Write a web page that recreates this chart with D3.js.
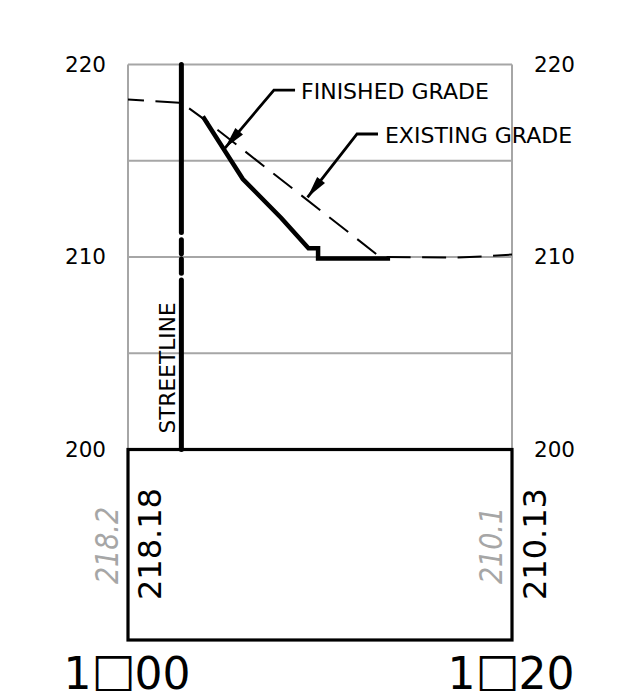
<!DOCTYPE html>
<html>
<head>
<meta charset="utf-8">
<script src="https://cdn.jsdelivr.net/npm/d3@7"></script>
<style>
  html, body { margin: 0; background: #fff; }
  svg { display: block; }
  text { font-family: "DejaVu Sans", sans-serif; fill: #000; }
</style>
</head>
<body>
<svg id="chart" width="624" height="691"></svg>
<script>
// stations and elevations
const stationDomain = [100, 120];
const elevationDomain = [200, 220];
const elevationTicks = [200, 210, 220];
const gridElevations = [205, 210, 215, 220];
const stationLabels = [["1", "\u25A1", "00"], ["1", "\u25A1", "20"]];
const labelStations = [100, 120];

const existingStations = [100, 102.8, 103.9, 113.13, 117, 118.5, 120];
const existingElevations = [218.18, 218.0, 217.2, 210.0, 209.97, 210.03, 210.13];
const finishedStations = [103.9, 105.98, 107.98, 109.4, 109.9, 109.9, 113.65];
const finishedElevations = [217.3, 214.05, 212.03, 210.45, 210.45, 209.92, 209.92];

const streetlineStation = 102.78;
const streetlineSegments = [[220, 211.27], [210.89, 210.16], [209.9, 209.16], [208.8, 200]];
const streetlineLabel = "STREETLINE";
const existingValues = ["218.18", "210.13"];
const proposedValues = ["218.2", "210.1"];

// leaders: elbow end, elbow, arrow tip as [station, elevation]
const finishedLeader = [[108.7, 218.67], [107.6, 218.67], [105.05, 215.66]];
const existingLeader = [[113.02, 216.39], [111.93, 216.39], [109.35, 213.1]];

const x = d3.scaleLinear().domain(stationDomain).range([128, 512]);
const y = d3.scaleLinear().domain(elevationDomain).range([449.5, 64.5]);
const band = { top: 449.5, bottom: 640 };

const svg = d3.select("#chart");
const line = d3.line().x(d => x(d[0])).y(d => y(d[1]));

// grid
svg.append("g").selectAll("line").data(gridElevations).enter().append("line")
    .attr("x1", x(100)).attr("x2", x(120))
    .attr("y1", d => y(d)).attr("y2", d => y(d))
    .attr("stroke", "#a6a6a6").attr("stroke-width", 2);

svg.append("g").selectAll("line").data(stationDomain).enter().append("line")
    .attr("x1", d => x(d)).attr("x2", d => x(d))
    .attr("y1", y(220)).attr("y2", y(200))
    .attr("stroke", "#a6a6a6").attr("stroke-width", 2);

// elevation labels both sides
svg.append("g").selectAll("text").data(elevationTicks).enter().append("text")
    .attr("x", x(100) - 22).attr("y", d => y(d) + 7)
    .attr("text-anchor", "end").attr("font-size", 21.5).text(d => d);
svg.append("g").selectAll("text").data(elevationTicks).enter().append("text")
    .attr("x", x(120) + 22).attr("y", d => y(d) + 7)
    .attr("font-size", 21.5).text(d => d);

// existing grade
svg.append("path").datum(d3.zip(existingStations, existingElevations))
    .attr("d", line).attr("fill", "none").attr("stroke", "#000")
    .attr("stroke-width", 2).attr("stroke-dasharray", "24 11.5").attr("stroke-dashoffset", 8);

// finished grade
svg.append("path").datum(d3.zip(finishedStations, finishedElevations))
    .attr("d", line).attr("fill", "none").attr("stroke", "#000")
    .attr("stroke-width", 4.5).attr("stroke-linejoin", "miter");

// streetline
svg.append("g").selectAll("line").data(streetlineSegments).enter().append("line")
    .attr("x1", x(streetlineStation)).attr("x2", x(streetlineStation))
    .attr("y1", d => y(d[0])).attr("y2", d => y(d[1]))
    .attr("stroke", "#000").attr("stroke-width", 5).attr("stroke-linecap", "round");
svg.append("text")
    .attr("transform", `translate(175,${y(200) - 16}) rotate(-90)`)
    .attr("font-size", 21.7).text(streetlineLabel);

// leaders with arrows
function leader(points, label, textGap) {
    svg.append("path").datum(points).attr("d", line)
        .attr("fill", "none").attr("stroke", "#000").attr("stroke-width", 2.8);
    const tip = points[2], elbow = points[1];
    const tx = x(tip[0]), ty = y(tip[1]);
    const a = Math.atan2(y(elbow[1]) - ty, x(elbow[0]) - tx) * 180 / Math.PI;
    svg.append("path").attr("d", "M0,0L22,-5L22,5Z")
        .attr("transform", `translate(${tx},${ty}) rotate(${a})`)
        .attr("fill", "#000");
    svg.append("text")
        .attr("x", x(points[0][0]) + textGap).attr("y", y(points[0][1]) + 9)
        .attr("font-size", 22).text(label);
}
leader(finishedLeader, "FINISHED GRADE", 6);
leader(existingLeader, "EXISTING GRADE", 7);

// data band
svg.append("rect")
    .attr("x", x(100)).attr("y", band.top)
    .attr("width", x(120) - x(100)).attr("height", band.bottom - band.top)
    .attr("fill", "none").attr("stroke", "#000").attr("stroke-width", 3.2);

// band values
svg.append("g").selectAll("text").data(existingValues).enter().append("text")
    .attr("transform", (d, i) => `translate(${x(labelStations[i]) + (i ? 34 : 33)},600) rotate(-90)`)
    .attr("font-size", 32).text(d => d);
svg.append("g").selectAll("text").data(proposedValues).enter().append("text")
    .attr("transform", (d, i) => `translate(${x(labelStations[i]) - 10},584) rotate(-90)`)
    .attr("font-size", 32).attr("font-style", "italic")
    .attr("textLength", 77).attr("lengthAdjust", "spacingAndGlyphs")
    .style("fill", "#a6a6a6").text(d => d);

// station labels
const stationText = svg.append("g").selectAll("text").data(stationLabels).enter().append("text")
    .attr("x", (d, i) => x(labelStations[i]) - 1).attr("y", 689)
    .attr("text-anchor", "middle").attr("font-size", 44);
stationText.selectAll("tspan").data(d => d).enter().append("tspan")
    .attr("font-size", (d, i) => i === 1 ? 46.5 : 44)
    .attr("dx", (d, i) => i === 2 ? -1 : 0)
    .attr("dy", (d, i) => i === 1 ? -3 : i === 2 ? 3 : 0)
    .text(d => d);
</script>
</body>
</html>
